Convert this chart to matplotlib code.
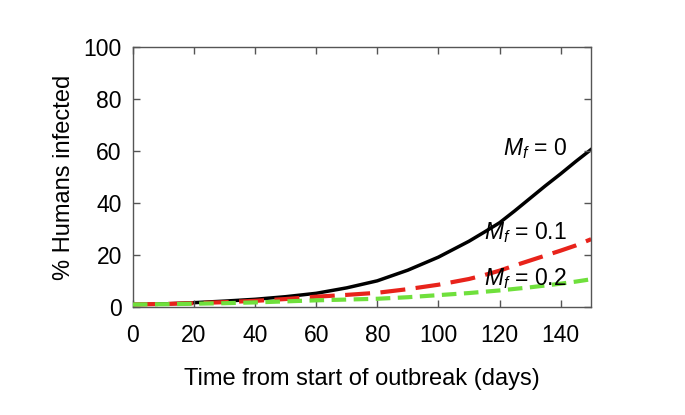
import matplotlib.pyplot as plt

plt.rcParams['font.family'] = ['Liberation Sans', 'DejaVu Sans']
plt.rcParams['mathtext.fontset'] = 'custom'
plt.rcParams['mathtext.rm'] = 'Liberation Sans'
plt.rcParams['mathtext.it'] = 'Liberation Sans:italic'

days = [0, 10, 20, 30, 40, 50, 60, 70, 80, 90, 100, 110, 115, 120, 125, 130, 135, 140, 145, 150]
mf0 = [1.0, 1.2, 1.7, 2.3, 3.0, 4.0, 5.3, 7.4, 10.1, 14.2, 19.2, 25.3, 28.8, 32.4, 37.0, 41.8, 46.6, 51.2, 56.0, 60.6]
mf01 = [1.0, 1.2, 1.5, 1.9, 2.4, 3.1, 4.0, 4.7, 5.5, 6.9, 8.6, 10.8, 12.3, 14.0, 16.0, 17.9, 19.8, 21.7, 23.7, 26.1]
mf02 = [1.0, 1.1, 1.3, 1.5, 1.8, 2.2, 2.6, 2.9, 3.2, 3.8, 4.6, 5.4, 5.9, 6.4, 7.0, 7.6, 8.3, 9.0, 9.8, 10.7]
labels = [r'$M_f$ = 0', r'$M_f$ = 0.1', r'$M_f$ = 0.2']
label_y = [61, 28.5, 11]

fig = plt.figure(figsize=(6.85, 4.15), dpi=100)
ax = fig.add_axes([0.194, 0.26, 0.669, 0.627])

ax.plot(days, mf02, color='#6fe03c', lw=3, dashes=(3.5, 1.8), zorder=3)
ax.plot(days, mf01, color='#e8231b', lw=3, dashes=(6, 2.5), zorder=2)
ax.plot(days, mf0, color='black', lw=2.5, zorder=1)

for lab, y in zip(labels, label_y):
    ax.text(142, y, lab, ha='right', va='center', fontsize=16.5)

ax.set_xlim(0, 150)
ax.set_ylim(0, 100)
ax.set_xticks(range(0, 141, 20))
ax.set_yticks(range(0, 101, 20))
ax.tick_params(direction='in', top=True, right=True, length=5, width=1,
               color='#555555', labelsize=16.5)
ax.tick_params(axis='x', pad=12)
ax.tick_params(axis='y', pad=8)
for s in ax.spines.values():
    s.set_color('#555555')
    s.set_linewidth(1)

ax.set_xlabel('Time from start of outbreak (days)', fontsize=17, labelpad=15)
ax.set_ylabel('% Humans infected', fontsize=17, labelpad=6)

fig.savefig('out.png', dpi=100)
